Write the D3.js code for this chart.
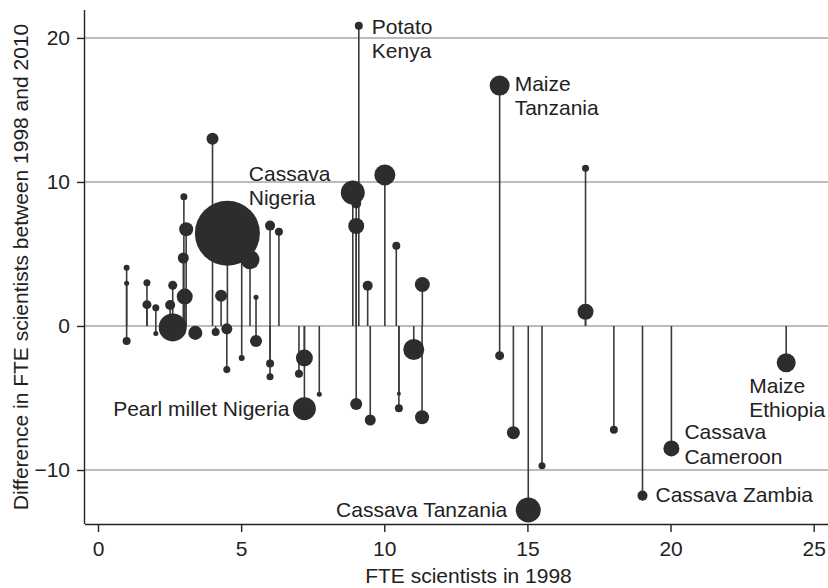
<!DOCTYPE html>
<html>
<head>
<meta charset="utf-8">
<script src="https://cdn.jsdelivr.net/npm/d3@7"></script>
<style>
  html, body { margin: 0; padding: 0; background: #fff; }
  svg { display: block; font-family: 'Liberation Sans', Arial, sans-serif; }
</style>
</head>
<body>
<svg id="chart" width="828" height="588"></svg>
<script>
// FTE scientists in 1998 (x), change 1998-2010 (y), bubble weight
const fte1998 = [
  1.0, 1.0, 1.0, 1.71, 1.71, 2.02, 2.02, 2.52, 2.61, 2.61,
  3.4, 3.0, 3.08, 2.98, 3.03, 4.0, 4.52, 4.3, 4.11, 4.5,
  4.5, 5.02, 5.02, 5.31, 5.52, 5.52, 6.01, 6.01, 6.01, 6.32,
  7.21, 7.02, 7.73, 7.21, 8.9, 9.02, 9.02, 9.11, 10.02, 9.42,
  10.42, 11.33, 11.03, 9.02, 9.51, 10.51, 10.51, 11.32, 14.03, 14.03,
  17.03, 17.03, 14.51, 15.03, 15.51, 18.02, 19.02, 20.03, 24.04
];
const fteChange = [
  4.05, 2.96, -1.04, 3.0, 1.48, 1.27, -0.52, 1.46, 2.82, -0.1,
  -0.48, 8.97, 6.72, 4.72, 2.04, 13.0, 6.44, 2.1, -0.42, -0.2,
  -3.03, -2.22, 5.5, 4.6, 2.0, -1.04, 6.97, -2.6, -3.52, 6.54,
  -2.22, -3.32, -4.74, -5.74, 9.26, 8.5, 6.94, 20.85, 10.49, 2.8,
  5.57, 2.88, -1.63, -5.42, -6.53, -5.72, -4.7, -6.34, 16.69, -2.06,
  10.95, 0.99, -7.41, -12.78, -9.7, -7.2, -11.78, -8.5, -2.55
];
const fteWeight = [
  2.25, 1.6, 4, 3.1, 5.1, 3.1, 1.6, 6.3, 5.1, 49,
  12.3, 3.1, 12.3, 7.6, 16, 9, 264, 9, 4, 7.6,
  3.1, 2.25, 2.25, 22.6, 1.6, 9, 6.3, 4, 3.1, 4,
  18, 4, 1.6, 33, 36, 6.3, 16, 4, 27.6, 6.3,
  4, 14, 27.6, 9, 7.6, 4, 1, 12.3, 25, 5.1,
  3.1, 16, 10.6, 39, 3.1, 4, 6.3, 16, 22.6
];
const xTicks = [0, 5, 10, 15, 20, 25];
const yTicks = [-10, 0, 10, 20];
const labelText = [
  { at: 37, lines: ['Potato', 'Kenya'] },
  { at: 48, lines: ['Maize', 'Tanzania'] },
  { at: 34, lines: ['Cassava', 'Nigeria'] },
  { at: 33, lines: ['Pearl millet Nigeria'] },
  { at: 53, lines: ['Cassava Tanzania'] },
  { at: 56, lines: ['Cassava Zambia'] },
  { at: 57, lines: ['Cassava', 'Cameroon'] },
  { at: 58, lines: ['Maize', 'Ethiopia'] }
];

// label placement (pixels, relative to marker centre)
const labelPos = {
  37: { dx: 13, dy: 8, anchor: 'start' },
  48: { dx: 15, dy: 5, anchor: 'start' },
  34: { dx: -104, dy: -12, anchor: 'start' },
  33: { dx: -15, dy: 7, anchor: 'end' },
  53: { dx: -21, dy: 7, anchor: 'end' },
  56: { dx: 13, dy: 6, anchor: 'start' },
  57: { dx: 13, dy: -9, anchor: 'start' },
  58: { dx: -37, dy: 30, anchor: 'start' }
};

const ink = '#2d2d2d';
const fontSize = 21;
const plot = { left: 85, right: 828, top: 10, bottom: 524 };

const svg = d3.select('#chart');
const x = d3.scaleLinear().domain([-0.454, 25.5]).range([plot.left, plot.right]);
const y = d3.scaleLinear().domain([-13.75, 21.94]).range([plot.bottom, plot.top]);
const r = d3.scaleSqrt().domain([0, 264]).range([0, 32.5]);

const data = fte1998.map((v, i) => ({ x: v, y: fteChange[i], w: fteWeight[i] }));

// gridlines
svg.append('g')
  .selectAll('line')
  .data(yTicks)
  .join('line')
  .attr('x1', plot.left)
  .attr('x2', plot.right)
  .attr('y1', (d) => y(d))
  .attr('y2', (d) => y(d))
  .attr('stroke', '#a6a6a6')
  .attr('stroke-width', 1.5);

// spikes from zero
svg.append('g')
  .selectAll('line')
  .data(data)
  .join('line')
  .attr('x1', (d) => x(d.x))
  .attr('x2', (d) => x(d.x))
  .attr('y1', y(0))
  .attr('y2', (d) => y(d.y))
  .attr('stroke', '#3a3a3a')
  .attr('stroke-width', 1.6);

// bubbles, big ones first
svg.append('g')
  .selectAll('circle')
  .data(data.slice().sort((a, b) => b.w - a.w))
  .join('circle')
  .attr('cx', (d) => x(d.x))
  .attr('cy', (d) => y(d.y))
  .attr('r', (d) => r(d.w))
  .attr('fill', ink);

// axes
const xAxis = svg.append('g')
  .attr('transform', `translate(0,${plot.bottom})`)
  .call(d3.axisBottom(x).tickValues(xTicks).tickSize(8).tickPadding(9).tickFormat(d3.format('d')));
const yAxis = svg.append('g')
  .attr('transform', `translate(${plot.left},0)`)
  .call(d3.axisLeft(y).tickValues(yTicks).tickSize(8).tickPadding(7).tickFormat(d3.format('d')));
[xAxis, yAxis].forEach((g) => {
  g.select('.domain').attr('stroke', '#222').attr('stroke-width', 1.4);
  g.selectAll('.tick line').attr('stroke', '#222').attr('stroke-width', 1.4);
  g.selectAll('.tick text')
    .attr('fill', '#222')
    .style('font-size', `${fontSize}px`)
    .style('font-family', "'Liberation Sans', Arial, sans-serif");
});
// axisBottom draws the domain with outer ticks; keep it flat
xAxis.select('.domain').attr('d', `M${plot.left},0.5H${plot.right}`);
yAxis.select('.domain').attr('d', `M-0.5,${plot.top}V${plot.bottom}`);

// axis titles
svg.append('text')
  .attr('x', (plot.left + plot.right) / 2 + 12)
  .attr('y', 583)
  .attr('text-anchor', 'middle')
  .attr('fill', '#222')
  .style('font-size', `${fontSize}px`)
  .text('FTE scientists in 1998');
svg.append('text')
  .attr('transform', `translate(28,${(plot.top + plot.bottom) / 2}) rotate(-90)`)
  .attr('text-anchor', 'middle')
  .attr('fill', '#222')
  .style('font-size', `${fontSize}px`)
  .text('Difference in FTE scientists between 1998 and 2010');

// marker labels
svg.append('g')
  .selectAll('text')
  .data(labelText)
  .join('text')
  .attr('fill', '#222')
  .style('font-size', `${fontSize}px`)
  .attr('text-anchor', (d) => labelPos[d.at].anchor)
  .each((d, i, g) => {
    const p = data[d.at];
    const pos = labelPos[d.at];
    d3.select(g[i])
      .selectAll('tspan')
      .data(d.lines)
      .join('tspan')
      .attr('x', x(p.x) + pos.dx)
      .attr('y', (t, j) => y(p.y) + pos.dy + j * 24.5)
      .text((t) => t);
  });
</script>
</body>
</html>
